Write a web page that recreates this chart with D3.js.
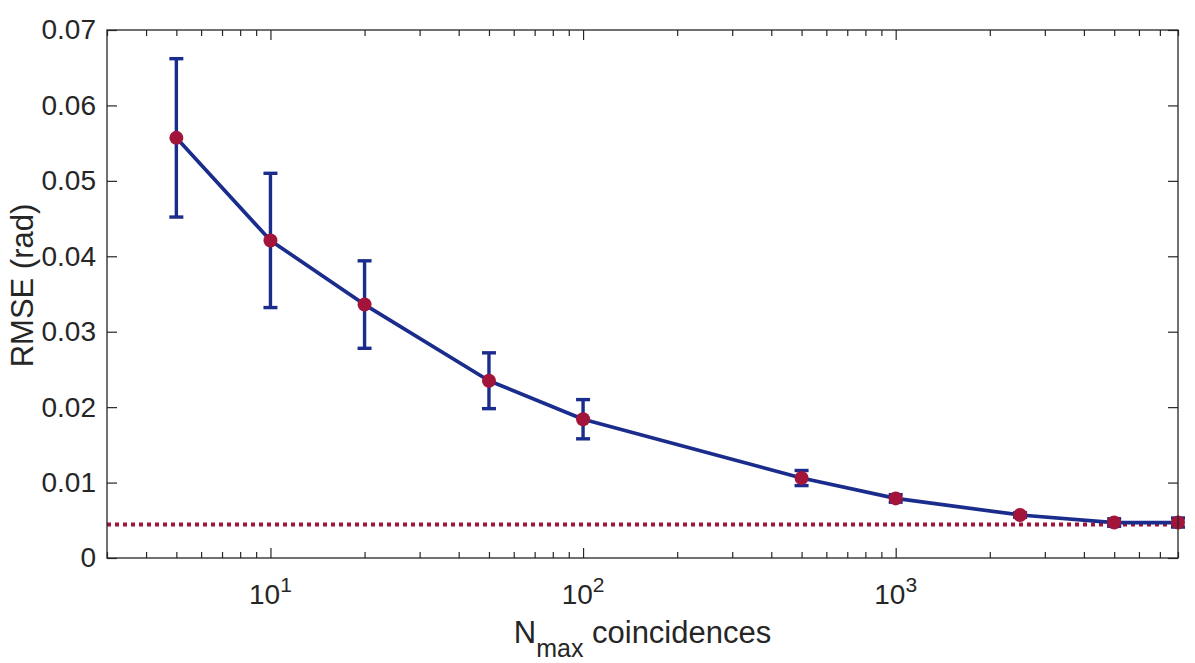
<!DOCTYPE html>
<html>
<head>
<meta charset="utf-8">
<script src="https://cdn.jsdelivr.net/npm/d3@7"></script>
<style>
  html, body { margin: 0; padding: 0; background: #fff; }
  #chart { width: 1195px; height: 663px; }
  text { font-family: "Liberation Sans", Arial, Helvetica, sans-serif; fill: #262626; }
</style>
</head>
<body>
<div id="chart"></div>
<script>
// data
const nmax = [5, 10, 20, 50, 100, 500, 1000, 2500, 5000, 8000];
const rmse = [0.0557, 0.0421, 0.0336, 0.0235, 0.0184, 0.0106, 0.0079, 0.0057, 0.0047, 0.0047];
const rmseErr = [0.0105, 0.0089, 0.0058, 0.0037, 0.0026, 0.0010, 0.0005, 0.0003, 0.0005, 0.0006];
const floorRmse = 0.00445;

// axis ticks
const yTicks = [0, 0.01, 0.02, 0.03, 0.04, 0.05, 0.06, 0.07];
const xMajor = [10, 100, 1000];
const xMajorExp = ["1", "2", "3"];
const xMinor = [3, 4, 5, 6, 7, 8, 9, 20, 30, 40, 50, 60, 70, 80, 90,
                200, 300, 400, 500, 600, 700, 800, 900,
                2000, 3000, 4000, 5000, 6000, 7000, 8000];

const blue = "#1a2c8c";
const red = "#a3143a";
const ink = "#262626";

function drawChart() {
  d3.select("#chart").select("svg").remove();

  const W = 1195, H = 663;
  const margin = { top: 30, right: 17, bottom: 105, left: 107 };
  const width = W - margin.left - margin.right;
  const height = H - margin.top - margin.bottom;

  const root = d3.select("#chart")
    .append("svg")
    .attr("width", W)
    .attr("height", H)
    .attr("viewBox", `0 0 ${W} ${H}`);

  const svg = root.append("g")
    .attr("transform", `translate(${margin.left},${margin.top})`);

  // scales
  const x = d3.scaleLog()
    .domain([3, 8000])
    .range([0, width]);

  const y = d3.scaleLinear()
    .domain([0, 0.07])
    .range([height, 0]);

  // reference floor (dotted)
  svg.append("line")
    .attr("x1", 0).attr("x2", width)
    .attr("y1", y(floorRmse)).attr("y2", y(floorRmse))
    .attr("stroke", red)
    .attr("stroke-width", 4)
    .attr("stroke-dasharray", "4,4");

  // error bars
  const bars = svg.append("g").selectAll("g")
    .data(nmax.map((n, i) => ({ n, v: rmse[i], e: rmseErr[i] })))
    .enter().append("g")
    .attr("stroke", blue)
    .attr("stroke-width", 3.4);

  bars.append("line")
    .attr("x1", d => x(d.n)).attr("x2", d => x(d.n))
    .attr("y1", d => y(d.v - d.e)).attr("y2", d => y(d.v + d.e));
  bars.append("line")
    .attr("x1", d => x(d.n) - 7).attr("x2", d => x(d.n) + 7)
    .attr("y1", d => y(d.v + d.e)).attr("y2", d => y(d.v + d.e));
  bars.append("line")
    .attr("x1", d => x(d.n) - 7).attr("x2", d => x(d.n) + 7)
    .attr("y1", d => y(d.v - d.e)).attr("y2", d => y(d.v - d.e));

  // main line
  const line = d3.line()
    .x((d, i) => x(nmax[i]))
    .y(d => y(d));

  svg.append("path")
    .datum(rmse)
    .attr("fill", "none")
    .attr("stroke", blue)
    .attr("stroke-width", 3.7)
    .attr("stroke-linejoin", "round")
    .attr("d", line);

  // markers
  svg.append("g").selectAll("circle")
    .data(rmse)
    .enter().append("circle")
    .attr("cx", (d, i) => x(nmax[i]))
    .attr("cy", d => y(d))
    .attr("r", 7)
    .attr("fill", red);

  // axes (ticks inward, MATLAB style)
  const tickStyle = g => {
    g.select(".domain").remove();
    g.selectAll("line").attr("stroke", ink).attr("stroke-width", 1.2);
  };

  svg.append("g")
    .attr("transform", `translate(0,${height})`)
    .call(d3.axisBottom(x).tickValues(xMinor).tickSize(-6).tickFormat(""))
    .call(tickStyle);
  svg.append("g")
    .attr("transform", `translate(0,${height})`)
    .call(d3.axisBottom(x).tickValues(xMajor).tickSize(-10).tickFormat(""))
    .call(tickStyle);
  svg.append("g")
    .call(d3.axisTop(x).tickValues(xMinor).tickSize(-6).tickFormat(""))
    .call(tickStyle);
  svg.append("g")
    .call(d3.axisTop(x).tickValues(xMajor).tickSize(-10).tickFormat(""))
    .call(tickStyle);

  const yAxis = svg.append("g")
    .call(d3.axisLeft(y).tickValues(yTicks).tickSize(-10).tickPadding(11)
      .tickFormat(d => d === 0 ? "0" : d3.format(".2f")(d)))
    .call(tickStyle);
  yAxis.selectAll("text")
    .style("font-size", "28px")
    .style("fill", ink)
    .style("font-family", '"Liberation Sans", Arial, Helvetica, sans-serif');

  svg.append("g")
    .attr("transform", `translate(${width},0)`)
    .call(d3.axisRight(y).tickValues(yTicks).tickSize(-10).tickFormat(""))
    .call(tickStyle);

  // box
  svg.append("rect")
    .attr("width", width).attr("height", height)
    .attr("fill", "none")
    .attr("stroke", ink)
    .attr("stroke-width", 1.3);

  // x tick labels 10^n
  const xl = svg.append("g").selectAll("text")
    .data(xMajor)
    .enter().append("text")
    .attr("x", d => x(d))
    .attr("y", height + 46)
    .attr("text-anchor", "middle")
    .style("font-size", "28px");
  xl.append("tspan").text("10");
  xl.append("tspan")
    .style("font-size", "21px")
    .attr("dy", -12)
    .text((d, i) => xMajorExp[i]);

  // axis labels
  const xlab = svg.append("text")
    .attr("x", width / 2)
    .attr("y", height + 85)
    .attr("text-anchor", "middle")
    .style("font-size", "31px");
  xlab.append("tspan").text("N");
  xlab.append("tspan").style("font-size", "25px").attr("dy", 14).text("max");
  xlab.append("tspan").attr("dy", -14).text(" coincidences");

  svg.append("text")
    .attr("transform", `translate(${33 - margin.left},${285.5 - margin.top}) rotate(-90)`)
    .attr("text-anchor", "middle")
    .style("font-size", "31px")
    .text("RMSE (rad)");
}

window.addEventListener("DOMContentLoaded", drawChart);
</script>
</body>
</html>
